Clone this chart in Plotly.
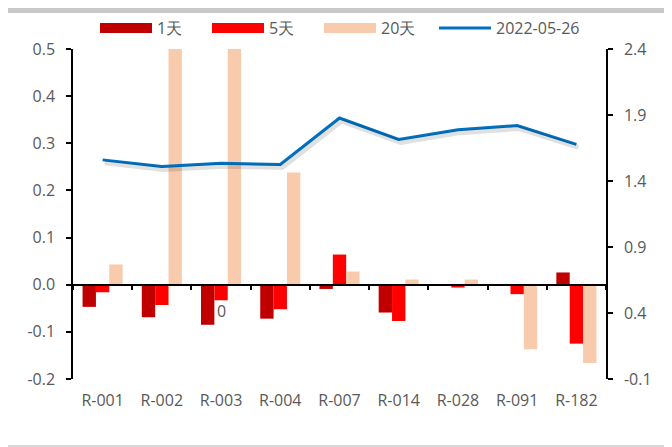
import plotly.graph_objects as go

categories = ["R-001", "R-002", "R-003", "R-004", "R-007", "R-014", "R-028", "R-091", "R-182"]
d1 = [-0.047, -0.069, -0.085, -0.072, -0.009, -0.059, -0.001, -0.001, 0.026]
d5 = [-0.016, -0.043, -0.033, -0.052, 0.064, -0.077, -0.006, -0.020, -0.125]
d20 = [0.043, 0.65, 0.65, 0.238, 0.028, 0.011, 0.011, -0.137, -0.166]
line_vals = [1.56, 1.51, 1.535, 1.525, 1.877, 1.715, 1.789, 1.82, 1.677]

left_ticks = [-0.2, -0.1, 0.0, 0.1, 0.2, 0.3, 0.4, 0.5]
left_labels = ["-0.2", "-0.1", "0.0", "0.1", "0.2", "0.3", "0.4", "0.5"]
right_ticks = [-0.1, 0.4, 0.9, 1.4, 1.9, 2.4]
right_labels = ["-0.1", "0.4", "0.9", "1.4", "1.9", "2.4"]

names = ["1天", "5天", "20天"]
colors = ["#C00000", "#FF0000", "#F8CBAD"]
line_name = "2022-05-26"
line_color = "#0070C0"
note_text = "0"

FONT = "Open Sans"
GRAY = "#595959"

# page offset (body margin) compensation
OFF = 8
W, H = 672, 447
pw, ph = 533, 330
L, T = 73 - OFF, 49 - OFF
R, B = W - L - pw, H - T - ph

def px_x(p):
    return (p - OFF - L) / pw

def px_y(p):
    return 1 - (p - OFF - T) / ph

RY = [-0.1, 2.4]
XR = [-0.5, len(categories) - 0.5]
# shadow offset (a few pixels down/right) expressed in axis units
sh_dy = 3 * (RY[1] - RY[0]) / ph
sh_dx = 2 * (XR[1] - XR[0]) / pw

fig = go.Figure()
for nm, vals, c in zip(names, [d1, d5, d20], colors):
    fig.add_trace(go.Bar(x=categories, y=vals, name=nm, marker_color=c,
                         marker_line_width=0, xaxis="x", yaxis="y", showlegend=False))
    # legend proxy
    fig.add_trace(go.Scatter(x=[None], y=[None], mode="lines", name=nm, legend="legend",
                             line=dict(color=c, width=12), xaxis="x", yaxis="y"))

# soft shadow of the line
fig.add_trace(go.Scatter(x=categories, y=line_vals, mode="lines", showlegend=False,
                         hoverinfo="skip", line=dict(color="rgba(0,0,0,0.12)", width=5),
                         xaxis="x3", yaxis="y3"))
fig.add_trace(go.Scatter(x=categories, y=line_vals, mode="lines", name=line_name,
                         legend="legend2",
                         line=dict(color=line_color, width=3), xaxis="x2", yaxis="y2"))

fig.add_annotation(x=categories[2], y=-0.055, xref="x", yref="y", text=note_text,
                   showarrow=False, font=dict(family=FONT, size=16, color=GRAY))

fig.add_shape(type="rect", xref="paper", yref="paper", x0=px_x(8), x1=px_x(680),
              y0=px_y(13), y1=px_y(7), fillcolor="#C8C8C8", line_width=0, layer="below")
fig.add_shape(type="line", xref="paper", yref="paper", x0=px_x(8), x1=px_x(680),
              y0=px_y(446), y1=px_y(446), line=dict(color="#C8C8C8", width=1.5))

leg_common = dict(orientation="h", yanchor="middle", y=px_y(28), xanchor="left",
                  itemwidth=52, font=dict(family=FONT, size=16, color=GRAY),
                  bgcolor="rgba(0,0,0,0)", tracegroupgap=0)

fig.update_layout(
    width=W, height=H,
    margin=dict(l=L, r=R, t=T, b=B, autoexpand=False),
    paper_bgcolor="white", plot_bgcolor="white",
    font=dict(family=FONT, size=16, color=GRAY),
    barmode="group", bargap=0.323, bargroupgap=0,
    legend=dict(x=px_x(101 - 6), entrywidth=45, **leg_common),
    legend2=dict(x=px_x(440 - 6), **leg_common),
    xaxis=dict(type="category", categoryorder="array", categoryarray=categories,
               range=XR, anchor="free", position=2 / 7,
               showline=True, linecolor="black", linewidth=1.5,
               ticks="outside", tickson="boundaries", ticklen=5, tickwidth=1.5, tickcolor="black",
               showticklabels=False, showgrid=False, zeroline=False),
    xaxis2=dict(type="category", categoryorder="array", categoryarray=categories,
                range=XR, overlaying="x", anchor="y", side="bottom",
                showline=False, ticks="", showgrid=False, zeroline=False,
                tickfont=dict(family=FONT, size=16, color=GRAY), ticklabelstandoff=10),
    xaxis3=dict(type="category", categoryorder="array", categoryarray=categories,
                range=[XR[0] - sh_dx, XR[1] - sh_dx], overlaying="x", anchor="y3",
                visible=False),
    yaxis=dict(range=[-0.2, 0.5], tickvals=left_ticks, ticktext=left_labels,
               showline=True, linecolor="black", linewidth=1.5,
               ticks="outside", ticklen=5, tickwidth=1.5, tickcolor="black",
               showgrid=False, zeroline=False, ticklabelstandoff=8,
               tickfont=dict(family=FONT, size=16, color=GRAY)),
    yaxis2=dict(range=RY, tickvals=right_ticks, ticktext=right_labels,
                overlaying="y", side="right", anchor="x2",
                showline=True, linecolor="black", linewidth=1.5,
                ticks="outside", ticklen=5, tickwidth=1.5, tickcolor="black",
                showgrid=False, zeroline=False, ticklabelstandoff=8,
                tickfont=dict(family=FONT, size=16, color=GRAY)),
    yaxis3=dict(range=[RY[0] + sh_dy, RY[1] + sh_dy], overlaying="y", anchor="x3",
                visible=False),
)

fig.write_html("out.html")
